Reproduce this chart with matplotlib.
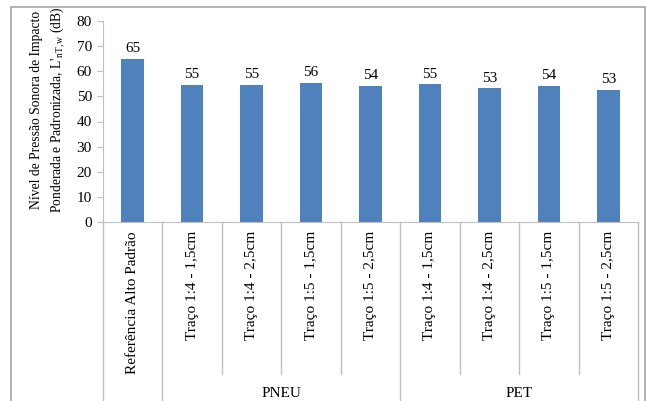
import matplotlib
matplotlib.use("Agg")
import matplotlib.pyplot as plt
from matplotlib.patches import Rectangle

# -----------------------------
# Data
# -----------------------------
categories = [
    "Referência Alto Padrão",
    "Traço 1:4 - 1,5cm",
    "Traço 1:4 - 2,5cm",
    "Traço 1:5 - 1,5cm",
    "Traço 1:5 - 2,5cm",
    "Traço 1:4 - 1,5cm",
    "Traço 1:4 - 2,5cm",
    "Traço 1:5 - 1,5cm",
    "Traço 1:5 - 2,5cm",
]
values = [64.8, 54.5, 54.5, 55.5, 54.3, 54.8, 53.2, 54.2, 52.6]
value_labels = ["65", "55", "55", "56", "54", "55", "53", "54", "53"]
groups = [("PNEU", 1, 4), ("PET", 5, 8)]
y_ticks = [0, 10, 20, 30, 40, 50, 60, 70, 80]

BAR_COLOR = "#4f81bd"
LINE_COLOR = "#bfbfbf"

plt.rcParams["font.family"] = ["Liberation Serif", "DejaVu Serif"]
plt.rcParams["mathtext.fontset"] = "custom"
plt.rcParams["mathtext.rm"] = "Liberation Serif"
plt.rcParams["mathtext.it"] = "Liberation Serif:italic"

W, H = 646, 401
fig = plt.figure(figsize=(W / 100, H / 100), dpi=100)

# outer frame
fig.patches.append(Rectangle((11 / W, -0.05), (645 - 11) / W, 1.05 - 7 / H,
                             transform=fig.transFigure, fill=False,
                             edgecolor="#a6a6a6", linewidth=1.2))

ax = fig.add_axes([103 / W, (H - 222) / H, (638 - 103) / W, (222 - 21) / H])

x = list(range(len(categories)))
ax.bar(x, values, width=0.38, color=BAR_COLOR)

for xi, v, lab in zip(x, values, value_labels):
    ax.text(xi, v + 1.5, lab, ha="center", va="bottom", fontsize=11)

ax.set_xlim(-0.5, len(categories) - 0.5)
ax.set_ylim(0, 80)
ax.set_yticks(y_ticks)
ax.tick_params(axis="y", length=4, color=LINE_COLOR, labelsize=11, pad=4)
ax.set_xticks([])

for side in ["top", "right"]:
    ax.spines[side].set_visible(False)
for side in ["left", "bottom"]:
    ax.spines[side].set_color(LINE_COLOR)

ax.set_ylabel("Nível de Pressão Sonora de Impacto\n"
              "Ponderada e Padronizada, L'$_{\\mathrm{nT,w}}$ (dB)",
              fontsize=9.8, linespacing=1.4)
ax.yaxis.set_label_coords(-0.068, 0.56)

# -----------------------------
# Category labels and separators
# -----------------------------
trans = ax.get_xaxis_transform()
for xi, cat in zip(x, categories):
    ax.text(xi, -0.045, cat, rotation=90, ha="center", va="top",
            fontsize=11, transform=trans)

long_lines = {-0.5, 0.5, 4.5, len(categories) - 0.5}
for i in range(len(categories) + 1):
    pos = i - 0.5
    bottom = -0.9 if pos in long_lines else -0.755
    ax.plot([pos, pos], [0, bottom], color=LINE_COLOR, linewidth=1,
            transform=trans, clip_on=False)

for name, start, end in groups:
    ax.text((start + end) / 2, -0.855, name, ha="center", va="center",
            fontsize=11, transform=trans)

fig.savefig("out.png", dpi=100)
